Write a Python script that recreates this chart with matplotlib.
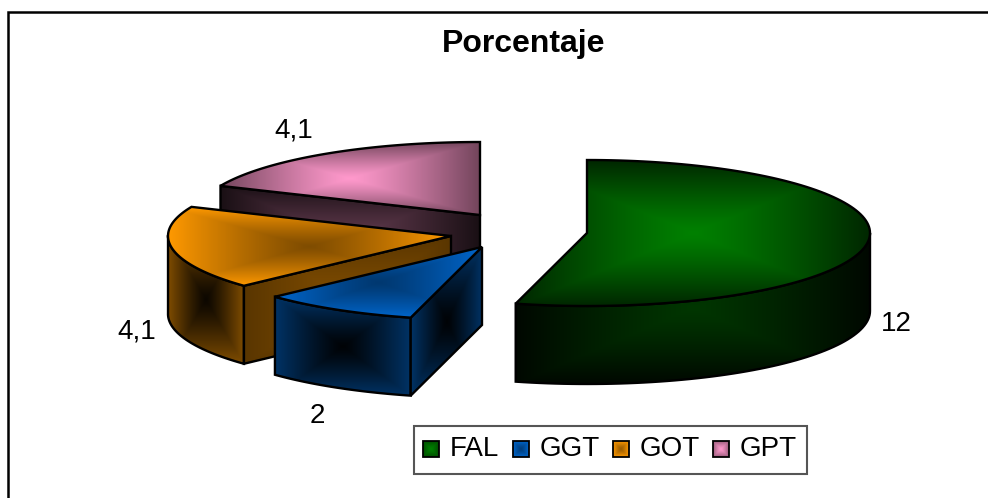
import numpy as np
import matplotlib
matplotlib.use("Agg")
import matplotlib.pyplot as plt
from matplotlib.colors import LinearSegmentedColormap, to_rgb
from matplotlib.patches import Polygon, Rectangle

plt.rcParams["font.family"] = ["Liberation Sans", "DejaVu Sans"]

# Datos
categorias = ["FAL", "GGT", "GOT", "GPT"]
valores = [12, 2, 4.1, 4.1]
etiquetas = ["12", "2", "4,1", "4,1"]
claros = ["#008000", "#0066cc", "#ff9900", "#ff99cc"]

# Geometria del pastel, en pixeles de la imagen
centros = [(587, 233), (482, 247), (451, 236), (480, 215)]
pos_etiquetas = [(896, 324), (317, 416), (137, 331), (294, 130)]
RX, RY, ALTO = 283, 73, 78

# brillo (centro, borde) de cada cara
tapa_f = [(1, 0.3), (0.55, 1), (0.5, 1), (1, 0.45)]
pared_f = [(0.42, 0.06), (0.03, 0.5), (0.05, 0.5), (0, 0)]
corte_f = [(0, 0), (0.03, 0.5), (0.5, 0.35), (0.38, 0.1)]
cuadro_f = [(1, 0.6), (0.6, 1), (0.6, 1), (1, 0.6)]
zo = 2


def rellenar(ax, verts, color, f_centro, f_borde, z=None, lw=1.7):
    # degradado "rectangular" recortado al contorno
    global zo
    z = zo if z is None else z
    verts = np.asarray(verts)
    x0, y0 = verts.min(axis=0)
    x1, y1 = verts.max(axis=0)
    xx, yy = np.meshgrid(np.linspace(-1, 1, 300), np.linspace(-1, 1, 200))
    t = np.maximum(np.abs(xx), np.abs(yy)) ** 1.2
    rgb = np.array(to_rgb(color))
    cmap = LinearSegmentedColormap.from_list("g", [rgb * f_centro, rgb * f_borde])
    im = ax.imshow(t, extent=(x0, x1, y1, y0), cmap=cmap, vmin=0, vmax=1,
                   interpolation="bilinear", aspect="auto", zorder=z)
    poli = Polygon(verts, closed=True, facecolor="none", edgecolor="black", lw=lw,
                   joinstyle="miter", zorder=z + 0.5)
    ax.add_patch(poli)
    im.set_clip_path(poli)
    zo += 1


def sector(ax, i, a0, a1):
    cx, cy = centros[i]
    color = claros[i]
    ang = np.radians(np.linspace(a0, a1, 120))
    px = cx + RX * np.sin(ang)
    py = cy - RY * np.cos(ang)

    # pared exterior: solo la parte que mira al frente
    vis = np.cos(ang) < 0.02
    if vis.any():
        qx, qy = px[vis], py[vis]
        pared = list(zip(qx, qy)) + list(zip(qx[::-1], qy[::-1] + ALTO))
        rellenar(ax, pared, color, *pared_f[i])
    # pared plana del corte, visible solo pasada la mitad del giro
    if a0 > 180:
        corte = [(cx, cy), (px[0], py[0]), (px[0], py[0] + ALTO), (cx, cy + ALTO)]
        rellenar(ax, corte, color, *corte_f[i])
    rellenar(ax, [(cx, cy)] + list(zip(px, py)), color, *tapa_f[i])


fig = plt.figure(figsize=(9.88, 4.98), dpi=100)
ax = fig.add_axes([0, 0, 1, 1])
ax.axis("off")

# marco: solo arriba e izquierda quedan dentro de la imagen
ax.plot([8, 8, 988], [498, 11.5, 11.5], color="black", lw=1.8, zorder=1, solid_joinstyle="miter")
ax.text(524, 44, "Porcentaje", fontsize=23, fontweight="bold", ha="center", va="center")

# angulos a partir de los valores, desde las 12 en sentido horario
total = sum(valores)
bordes = np.concatenate([[0], np.cumsum(valores)]) / total * 360

# orden de pintado: de atras hacia adelante
for i in [3, 2, 1, 0]:
    sector(ax, i, bordes[i], bordes[i + 1])

for (x, y), t in zip(pos_etiquetas, etiquetas):
    ax.text(x, y, t, fontsize=20, ha="center", va="center")

# leyenda
ax.add_patch(Rectangle((413.5, 425.5), 393, 48, facecolor="white", edgecolor="#555555", lw=1.5, zorder=50))
x_cuadro = [423, 513, 613, 713]
x_texto = [450, 540, 640, 740]
for i, (xc, xt, n) in enumerate(zip(x_cuadro, x_texto, categorias)):
    cuadro = [(xc, 441), (xc + 16, 441), (xc + 16, 457), (xc, 457)]
    rellenar(ax, cuadro, claros[i], *cuadro_f[i], z=51 + i, lw=1.3)
    ax.text(xt, 449, n, fontsize=20, ha="left", va="center", zorder=60)

ax.set_xlim(0, 988)
ax.set_ylim(498, 0)
fig.savefig("out.png", dpi=100)
